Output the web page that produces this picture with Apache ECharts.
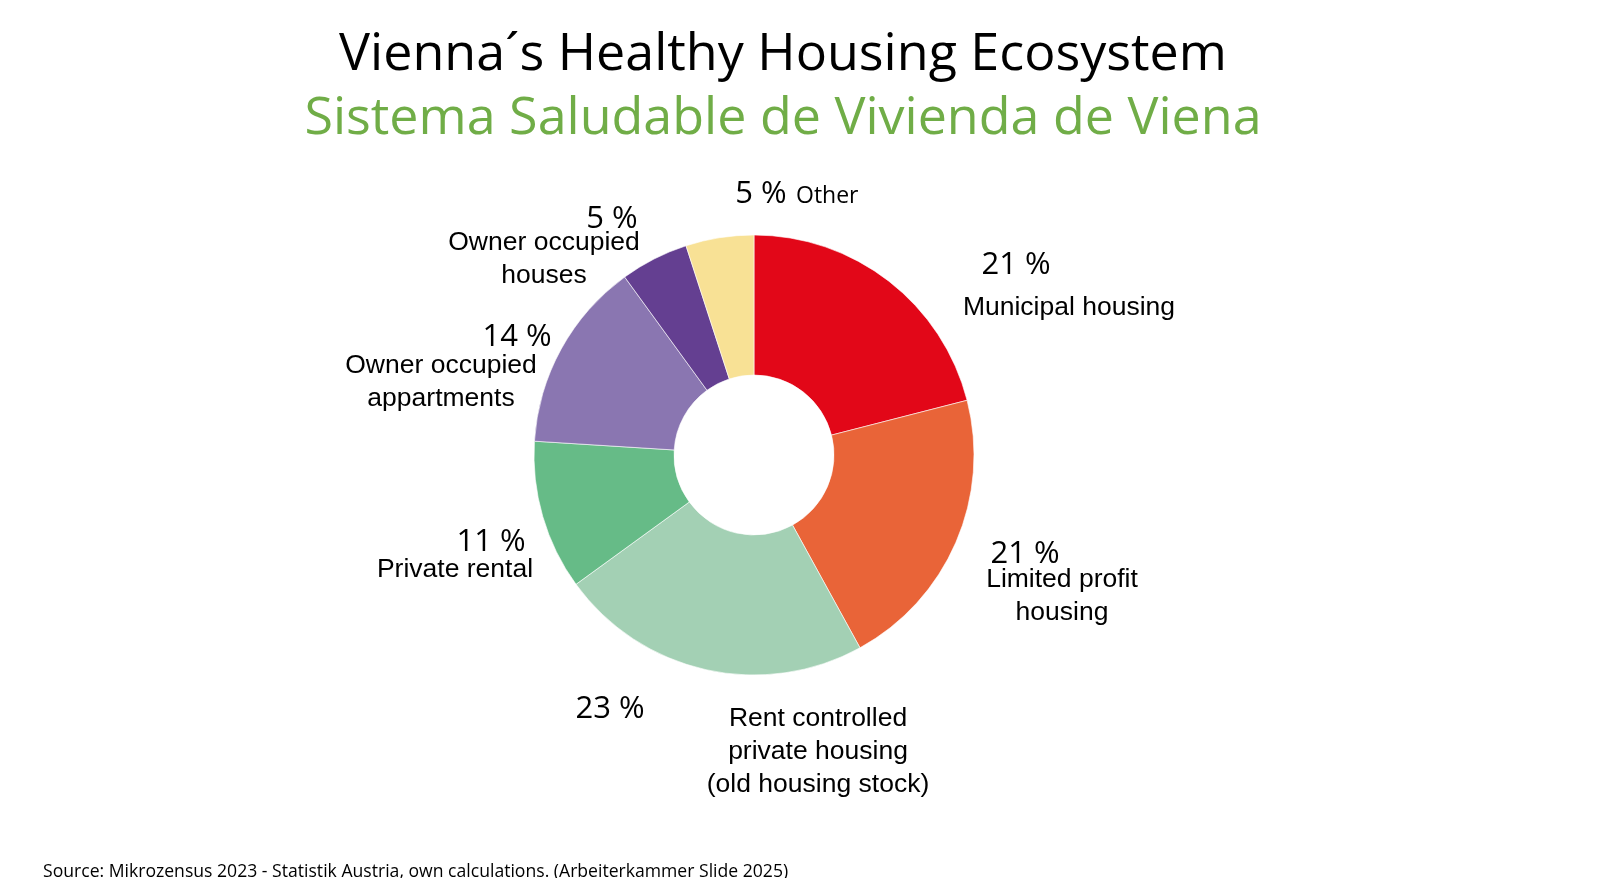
<!DOCTYPE html>
<html>
<head>
<meta charset="utf-8">
<title>Vienna´s Healthy Housing Ecosystem</title>
<script src="https://cdn.jsdelivr.net/npm/echarts@6/dist/echarts.min.js"></script>
<style>
  html, body { margin: 0; padding: 0; background: #fff; }
  #chart { width: 1600px; height: 878px; }
</style>
</head>
<body>
<div id="chart"></div>
<script>
// data, clockwise from 12 o'clock
const categories = [
  'Municipal housing',
  'Limited profit\nhousing',
  'Rent controlled\nprivate housing\n(old housing stock)',
  'Private rental',
  'Owner occupied\nappartments',
  'Owner occupied\nhouses',
  'Other'
]
const shares = [21, 21, 23, 11, 14, 5, 5]
const sliceColors = ['#E20718', '#E96438', '#A3D0B4', '#66BB87', '#8A76B1', '#643F91', '#F8E195']

const titleText = 'Vienna´s Healthy Housing Ecosystem'
const subtitleText = 'Sistema Saludable de Vivienda de Viena'
const sourceText = 'Source: Mikrozensus 2023 - Statistik Austria, own calculations. (Arbeiterkammer Slide 2025)'

// where the percent and name of each slice sit (page pixels)
const labelSpots = [
  {pct: [1016, 265], name: [1069, 308], align: 'center'},
  {pct: [1025, 554], name: [1062, 596], align: 'center'},
  {pct: [610, 709], name: [818, 752], align: 'center'},
  {pct: [491, 542], name: [455, 570], align: 'center'},
  {pct: [517, 337], name: [441, 382], align: 'center'},
  {pct: [612, 219], name: [544, 259], align: 'center'},
  {pct: [761, 194], name: [796, 196], align: 'left'}
]

const chart = echarts.init(document.getElementById('chart'))

const texts = [
  {
    type: 'text', x: 783, y: 55,
    style: {text: titleText, font: '52px "Open Sans"', fill: '#000', align: 'center', verticalAlign: 'middle'}
  },
  {
    type: 'text', x: 783, y: 119,
    style: {text: subtitleText, font: '52px "Open Sans"', fill: '#70AD47', align: 'center', verticalAlign: 'middle'}
  },
  {
    type: 'text', x: 43, y: 872,
    style: {text: sourceText, font: '17.6px "Open Sans"', fill: '#000', align: 'left', verticalAlign: 'middle'}
  }
]

categories.forEach((name, i) => {
  const spot = labelSpots[i]
  texts.push({
    type: 'text',
    x: spot.pct[0], y: spot.pct[1],
    style: {
      text: shares[i] + ' %',
      font: '31px "Open Sans"',
      fill: '#000',
      align: 'center',
      verticalAlign: 'middle'
    }
  })
  texts.push({
    type: 'text',
    x: spot.name[0], y: spot.name[1],
    style: {
      text: name,
      font: i === 6 ? '23px "Open Sans"' : '26.5px "Liberation Sans"',
      lineHeight: 33,
      fill: '#000',
      align: spot.align,
      verticalAlign: 'middle'
    }
  })
})

const option = {
  backgroundColor: '#fff',
  animation: false,
  series: [
    {
      type: 'pie',
      center: [754, 455],
      radius: [80, 220],
      startAngle: 90,
      clockwise: true,
      label: {show: false},
      labelLine: {show: false},
      itemStyle: {borderColor: '#fff', borderWidth: 0.6},
      emphasis: {disabled: true},
      data: categories.map((c, i) => ({
        name: c,
        value: shares[i],
        itemStyle: {color: sliceColors[i]}
      }))
    }
  ],
  graphic: texts
}

chart.setOption(option)
</script>
</body>
</html>
